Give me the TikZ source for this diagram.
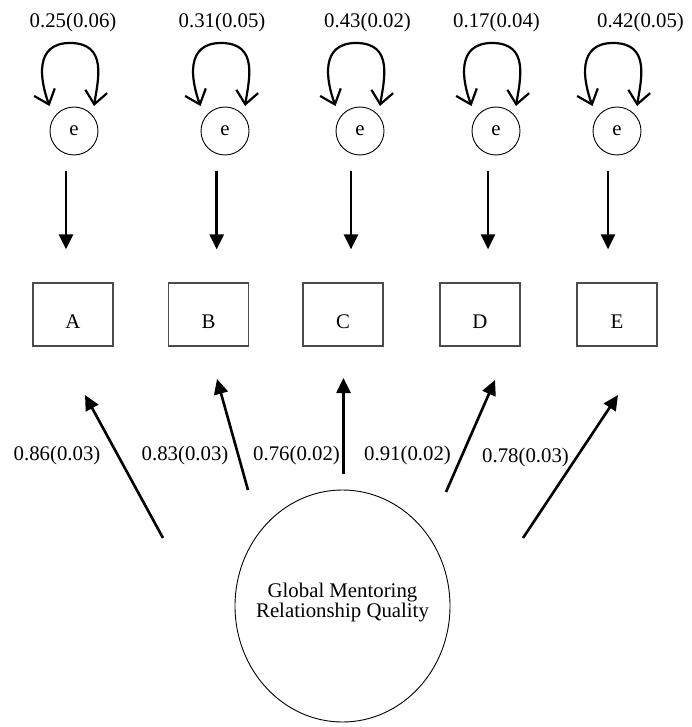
\documentclass[tikz,border=0pt]{standalone}
\usepackage{fontspec}
\setmainfont{Liberation Serif}
\usetikzlibrary{arrows.meta,shapes.geometric}

\tikzset{
  txt/.style={font=\fontsize{20.8}{20}\selectfont, inner sep=0pt},
  ecirc/.style={draw, circle, line width=0.9pt, minimum size=48pt, inner sep=0pt, txt},
  obsbox/.style={draw=black!70, line width=1.2pt, minimum width=80pt, minimum height=63pt,
                 inner sep=0pt, text height=27pt, text depth=0pt, txt},
  latent/.style={draw, ellipse, line width=0.9pt, minimum width=215pt, minimum height=232pt,
                 inner sep=0pt},
  lbl/.style={txt, anchor=base},
  path/.style={line width=2.6pt, -{Triangle[length=15pt,width=14pt]}},
  selfloop/.style={line width=2.2pt,
    {Straight Barb[length=13pt,width=22pt]}-{Straight Barb[length=13pt,width=22pt]}}
}

% variance loop above an error node
\newcommand\errloop[1]{%
  \draw[selfloop]
    ([shift={(-24.5,-25)}]#1.center)
      .. controls ([shift={(-34,-51)}]#1.center) and ([shift={(-40,-88)}]#1.center)
      .. ([shift={(-4,-88)}]#1.center)
      .. controls ([shift={(34,-88)}]#1.center) and ([shift={(24,-51)}]#1.center)
      .. ([shift={(20,-25)}]#1.center);}

\begin{document}
\begin{tikzpicture}[x=1pt, y=-1pt]
  \useasboundingbox (0,0) rectangle (691,727);

  % error terms
  \node[ecirc] (eA) at (74,131) {e};
  \node[ecirc] (eB) at (225,131) {e};
  \node[ecirc] (eC) at (360,131) {e};
  \node[ecirc] (eD) at (496,131) {e};
  \node[ecirc] (eE) at (617,131) {e};

  % error variances
  \node[lbl] (vA) at (73,28) {0.25(0.06)};
  \node[lbl] (vB) at (222,28) {0.31(0.05)};
  \node[lbl] (vC) at (367.5,28) {0.43(0.02)};
  \node[lbl] (vD) at (496.5,28) {0.17(0.04)};
  \node[lbl] (vE) at (640.5,28) {0.42(0.05)};

  \errloop{eA}
  \errloop{eB}
  \errloop{eC}
  \errloop{eD}
  \errloop{eE}

  % observed indicators
  \node[obsbox] (bA) at (73,314.5) {A};
  \node[obsbox] (bB) at (208.5,314.5) {B};
  \node[obsbox] (bC) at (343,314.5) {C};
  \node[obsbox] (bD) at (480,314.5) {D};
  \node[obsbox] (bE) at (617,314.5) {E};

  % error -> indicator
  \draw[path] ([shift={(-8,16)}]eA.south) -- ([shift={(-7,-33)}]bA.north);
  \draw[path] ([shift={(-8.3,16)}]eB.south) -- ([shift={(8.2,-33)}]bB.north);
  \draw[path] ([shift={(-9,16)}]eC.south) -- ([shift={(8,-33)}]bC.north);
  \draw[path] ([shift={(-8,16)}]eD.south) -- ([shift={(8,-33)}]bD.north);
  \draw[path] ([shift={(-9,16)}]eE.south) -- ([shift={(-9,-33)}]bE.north);

  % latent factor
  \node[latent] (g) at (342.5,606) {};
  \node[txt, align=center] (gt) at (342.5,603) {Global Mentoring\\Relationship Quality};

  % loading arrow end points
  \coordinate (s1) at (163,538);   \coordinate (t1) at (85,395);
  \coordinate (s2) at (248,490);   \coordinate (t2) at (217,379);
  \coordinate (s3) at (343.5,474); \coordinate (t3) at (343.5,378);
  \coordinate (s4) at (446,492);   \coordinate (t4) at (495,380);
  \coordinate (s5) at (523,538);   \coordinate (t5) at (618,395);

  \draw[path] (s1) -- (t1);
  \draw[path] (s2) -- (t2);
  \draw[path] (s3) -- (t3);
  \draw[path] (s4) -- (t4);
  \draw[path] (s5) -- (t5);

  % factor loadings
  \node[lbl] (k1) at (57,460) {0.86(0.03)};
  \node[lbl] (k2) at (185,460) {0.83(0.03)};
  \node[lbl] (k3) at (296.5,460) {0.76(0.02)};
  \node[lbl] (k4) at (407.5,460) {0.91(0.02)};
  \node[lbl] (k5) at (525.5,462) {0.78(0.03)};
\end{tikzpicture}
\end{document}
